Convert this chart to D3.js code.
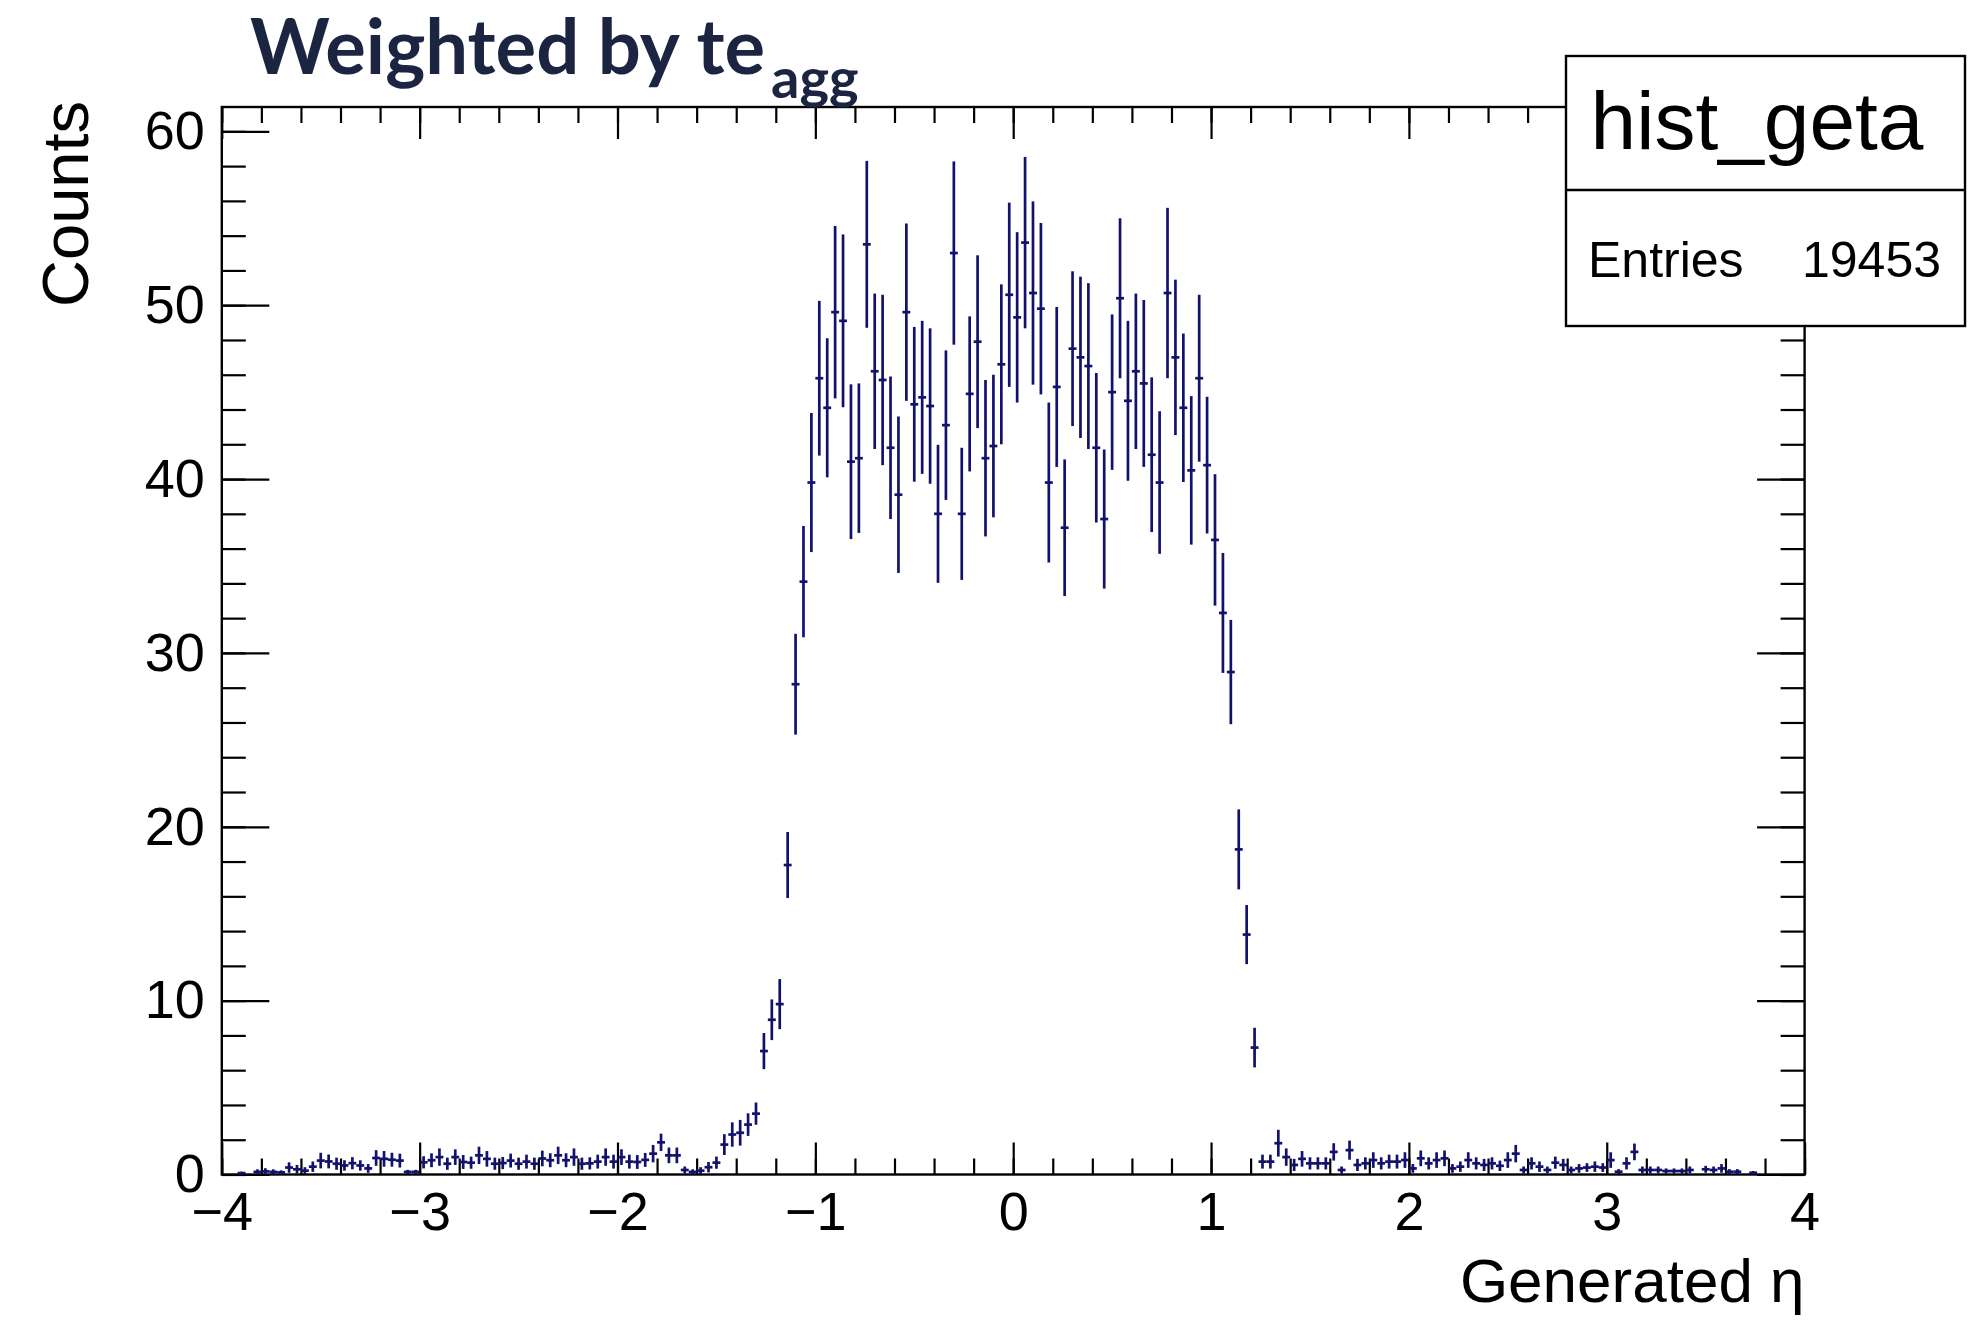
<!DOCTYPE html>
<html>
<head>
<meta charset="utf-8">
<script src="https://cdn.jsdelivr.net/npm/d3@7"></script>
<style>
  body { margin: 0; background: #fff; }
  svg text { font-family: "Liberation Sans", Arial, Helvetica, sans-serif; fill: #000; }
</style>
</head>
<body>
<div id="chart"></div>
<script>
// histogram: 200 bins over eta in [-4, 4]
const etaRange = [-4, 4];
const countsMax = 61.4;
const xTickLabels = [-4, -3, -2, -1, 0, 1, 2, 3, 4];
const yTickLabels = [0, 10, 20, 30, 40, 50, 60];

// bins 0-62
const leftTailCounts = [
  0, 0, 0.08, 0, 0.15, 0.18, 0.15, 0.12, 0.4, 0.3,
  0.22, 0.45, 0.8, 0.75, 0.62, 0.52, 0.65, 0.52, 0.35, 0.95,
  0.9, 0.85, 0.8, 0.15, 0.15, 0.7, 0.82, 1.0, 0.62, 1.0,
  0.72, 0.68, 1.1, 0.9, 0.62, 0.66, 0.8, 0.62, 0.74, 0.62,
  0.92, 0.82, 1.1, 0.82, 1.0, 0.62, 0.64, 0.74, 1.0, 0.74,
  1.0, 0.74, 0.72, 0.84, 1.2, 1.85, 1.1, 1.1, 0.26, 0.15,
  0.22, 0.42, 0.68
];
const leftTailErrors = [
  0, 0, 0.08, 0, 0.15, 0.18, 0.15, 0.12, 0.3, 0.25,
  0.2, 0.3, 0.45, 0.4, 0.35, 0.3, 0.35, 0.3, 0.25, 0.45,
  0.45, 0.4, 0.4, 0.12, 0.12, 0.35, 0.4, 0.5, 0.35, 0.45,
  0.4, 0.35, 0.5, 0.45, 0.35, 0.35, 0.4, 0.35, 0.4, 0.35,
  0.45, 0.4, 0.5, 0.4, 0.5, 0.35, 0.35, 0.4, 0.5, 0.4,
  0.45, 0.4, 0.4, 0.4, 0.5, 0.5, 0.45, 0.45, 0.2, 0.15,
  0.2, 0.3, 0.35
];

// bins 63-130
const coreCounts = [
  1.72, 2.3, 2.4, 2.87, 3.5, 7.1, 8.9, 9.8, 17.8, 28.2,
  34.1, 39.8, 45.8, 44.1, 49.6, 49.1, 41.0, 41.2, 53.5, 46.2,
  45.7, 41.8, 39.1, 49.6, 44.3, 44.7, 44.2, 38.0, 43.1, 53.0,
  38.0, 44.9, 47.9, 41.2, 41.9, 46.6, 50.6, 49.3, 53.6, 50.7,
  49.8, 39.8, 45.3, 37.2, 47.5, 47.0, 46.5, 41.8, 37.7, 45.0,
  50.4, 44.5, 46.2, 45.5, 41.4, 39.8, 50.7, 47.0, 44.1, 40.5,
  45.8, 40.8, 36.5, 32.3, 28.9, 18.7, 13.8, 7.3
];
const coreErrors = [
  0.6, 0.7, 0.74, 0.65, 0.64, 1.04, 1.17, 1.44, 1.9, 2.9,
  3.2, 4.0, 4.45, 4.0, 4.96, 4.97, 4.45, 4.3, 4.8, 4.47,
  4.9, 4.1, 4.5, 5.1, 4.45, 4.4, 4.47, 3.97, 4.3, 5.27,
  3.8, 4.46, 4.97, 4.5, 4.1, 4.6, 5.3, 4.9, 4.93, 5.27,
  4.93, 4.6, 4.6, 3.93, 4.45, 4.64, 4.77, 4.3, 4.0, 4.47,
  4.6, 4.6, 4.47, 4.8, 4.45, 4.1, 4.9, 4.47, 4.27, 4.27,
  4.8, 3.93, 3.78, 3.45, 3.0, 2.3, 1.7, 1.14
];

// bins 131-199
const rightTailCounts = [
  0.74, 0.74, 1.8, 1.0, 0.55, 0.9, 0.64, 0.64, 0.64, 1.3,
  0.26, 1.4, 0.55, 0.64, 0.83, 0.64, 0.74, 0.74, 0.83, 0.35,
  0.93, 0.64, 0.83, 0.93, 0.35, 0.45, 0.83, 0.64, 0.55, 0.64,
  0.5, 0.83, 1.2, 0.26, 0.64, 0.45, 0.26, 0.68, 0.55, 0.26,
  0.35, 0.4, 0.45, 0.4, 0.83, 0.16, 0.64, 1.3, 0.26, 0.26,
  0.26, 0.2, 0.2, 0.2, 0.26, 0, 0.3, 0.26, 0.35, 0.16,
  0.16, 0, 0.1, 0, 0, 0, 0, 0, 0
];
const rightTailErrors = [
  0.4, 0.4, 0.77, 0.5, 0.35, 0.45, 0.35, 0.35, 0.35, 0.5,
  0.2, 0.55, 0.35, 0.35, 0.45, 0.35, 0.4, 0.4, 0.45, 0.25,
  0.45, 0.35, 0.45, 0.45, 0.25, 0.3, 0.45, 0.35, 0.35, 0.35,
  0.3, 0.45, 0.5, 0.2, 0.35, 0.3, 0.2, 0.35, 0.35, 0.2,
  0.25, 0.25, 0.3, 0.25, 0.45, 0.15, 0.35, 0.48, 0.2, 0.2,
  0.2, 0.15, 0.15, 0.15, 0.2, 0, 0.2, 0.2, 0.25, 0.15,
  0.15, 0, 0.1, 0, 0, 0, 0, 0, 0
];

const statsName = "hist_geta";
const statsEntries = 19453;

class EtaHistogram {
  constructor(_config, _counts, _errors) {
    this.config = {
      parentElement: _config.parentElement,
      containerWidth: 1976,
      containerHeight: 1322,
      margin: { top: 107, right: 171.4, bottom: 147.5, left: 221.8 },
      color: "#12126c",
    };
    this.counts = _counts;
    this.errors = _errors;
    this.initVis();
  }

  initVis() {
    let vis = this;

    vis.svg = d3
      .select(vis.config.parentElement)
      .append("svg")
      .attr("width", vis.config.containerWidth)
      .attr("height", vis.config.containerHeight);

    vis.width = vis.config.containerWidth - vis.config.margin.left - vis.config.margin.right;
    vis.height = vis.config.containerHeight - vis.config.margin.top - vis.config.margin.bottom;

    vis.chart = vis.svg
      .append("g")
      .attr("transform", `translate(${vis.config.margin.left},${vis.config.margin.top})`);

    vis.x = d3.scaleLinear().domain(etaRange).range([0, vis.width]);
    vis.y = d3.scaleLinear().domain([0, countsMax]).range([vis.height, 0]);

    // bins from the counts
    vis.binWidth = (etaRange[1] - etaRange[0]) / vis.counts.length;
    vis.bins = vis.counts.map((c, i) => ({
      lo: etaRange[0] + i * vis.binWidth,
      hi: etaRange[0] + (i + 1) * vis.binWidth,
      value: c,
      err: vis.errors[i],
    }));

    vis.renderVis();
  }

  renderVis() {
    let vis = this;
    const fmt = (d) => (d < 0 ? "\u2212" + Math.abs(d) : "" + d);

    // ROOT style ticks, drawn inwards on all four sides
    const xMajLen = 32, xMinLen = 16, yMajLen = 47.5, yMinLen = 24;

    const axes = [
      d3.axisBottom(vis.x).tickValues(vis.x.ticks(40)).tickSize(-xMinLen).tickFormat(""),
      d3.axisBottom(vis.x).tickValues(xTickLabels).tickSize(-xMajLen).tickPadding(17).tickFormat(fmt),
    ];
    axes.forEach((a) =>
      vis.chart.append("g").attr("class", "axis").attr("transform", `translate(0,${vis.height})`).call(a)
    );

    vis.chart.append("g").attr("class", "axis")
      .call(d3.axisTop(vis.x).tickValues(vis.x.ticks(40)).tickSize(-xMinLen).tickFormat(""));
    vis.chart.append("g").attr("class", "axis")
      .call(d3.axisTop(vis.x).tickValues(xTickLabels).tickSize(-xMajLen).tickFormat(""));

    vis.chart.append("g").attr("class", "axis")
      .call(d3.axisLeft(vis.y).tickValues(vis.y.ticks(30)).tickSize(-yMinLen).tickFormat(""));
    vis.chart.append("g").attr("class", "axis")
      .call(d3.axisLeft(vis.y).tickValues(yTickLabels).tickSize(-yMajLen).tickPadding(17).tickFormat(fmt));

    vis.chart.append("g").attr("class", "axis").attr("transform", `translate(${vis.width},0)`)
      .call(d3.axisRight(vis.y).tickValues(vis.y.ticks(30)).tickSize(-yMinLen).tickFormat(""));
    vis.chart.append("g").attr("class", "axis").attr("transform", `translate(${vis.width},0)`)
      .call(d3.axisRight(vis.y).tickValues(yTickLabels).tickSize(-yMajLen).tickFormat(""));

    vis.chart.selectAll(".axis .domain").remove();
    vis.chart.selectAll(".axis line").attr("stroke", "#000").attr("stroke-width", 2.2);
    vis.chart.selectAll(".axis text").attr("font-size", 54).attr("fill", "#000")
      .style("font-family", '"Liberation Sans", Arial, sans-serif');

    // frame
    vis.chart.append("rect")
      .attr("width", vis.width)
      .attr("height", vis.height)
      .attr("fill", "none")
      .attr("stroke", "#000")
      .attr("stroke-width", 2.4);

    // error bars (non-empty bins only)
    const filled = vis.bins.filter((d) => d.value > 0);
    const marks = vis.chart.append("g")
      .attr("stroke", vis.config.color)
      .attr("stroke-width", 2.7)
      .attr("fill", "none");

    marks.selectAll(".vbar")
      .data(filled)
      .join("line")
      .attr("class", "vbar")
      .attr("x1", (d) => vis.x((d.lo + d.hi) / 2))
      .attr("x2", (d) => vis.x((d.lo + d.hi) / 2))
      .attr("y1", (d) => vis.y(Math.max(0, d.value - d.err)))
      .attr("y2", (d) => vis.y(d.value + d.err));

    marks.selectAll(".hbar")
      .data(filled)
      .join("line")
      .attr("class", "hbar")
      .attr("x1", (d) => vis.x(d.lo))
      .attr("x2", (d) => vis.x(d.hi))
      .attr("y1", (d) => vis.y(d.value))
      .attr("y2", (d) => vis.y(d.value));

    // axis titles
    vis.svg.append("text")
      .attr("text-anchor", "end")
      .attr("x", vis.config.margin.left + vis.width)
      .attr("y", 1302)
      .attr("font-size", 62)
      .text("Generated \u03b7");

    vis.svg.append("text")
      .attr("text-anchor", "end")
      .attr("transform", "translate(88,101) rotate(-90)")
      .attr("font-size", 65)
      .text("Counts");

    // stats box
    const box = { x: 1566, y: 56, w: 399, h: 270, split: 190 };
    vis.svg.append("rect")
      .attr("x", box.x).attr("y", box.y)
      .attr("width", box.w).attr("height", box.h)
      .attr("fill", "#fff").attr("stroke", "#000").attr("stroke-width", 2.4);
    vis.svg.append("line")
      .attr("x1", box.x).attr("x2", box.x + box.w)
      .attr("y1", box.split).attr("y2", box.split)
      .attr("stroke", "#000").attr("stroke-width", 2.4);
    vis.svg.append("text")
      .attr("text-anchor", "middle")
      .attr("x", 1757).attr("y", 149)
      .attr("font-size", 82)
      .text(statsName);
    vis.svg.append("text")
      .attr("x", 1588).attr("y", 277)
      .attr("font-size", 50)
      .text("Entries");
    vis.svg.append("text")
      .attr("text-anchor", "end")
      .attr("x", 1941).attr("y", 277)
      .attr("font-size", 50)
      .text(statsEntries);

    // slide title
    const title = vis.svg.append("text")
      .attr("x", 250).attr("y", 74)
      .style("font-family", "Lato, 'Open Sans', sans-serif")
      .style("font-weight", 700)
      .style("fill", "#1b2441")
      .attr("font-size", 76);
    title.append("tspan").text("Weighted by te");
    title.append("tspan").attr("dx", 6).attr("dy", 24).attr("font-size", 56).text("agg");
  }
}

const chart = new EtaHistogram(
  { parentElement: "#chart" },
  leftTailCounts.concat(coreCounts, rightTailCounts),
  leftTailErrors.concat(coreErrors, rightTailErrors)
);
</script>
</body>
</html>
